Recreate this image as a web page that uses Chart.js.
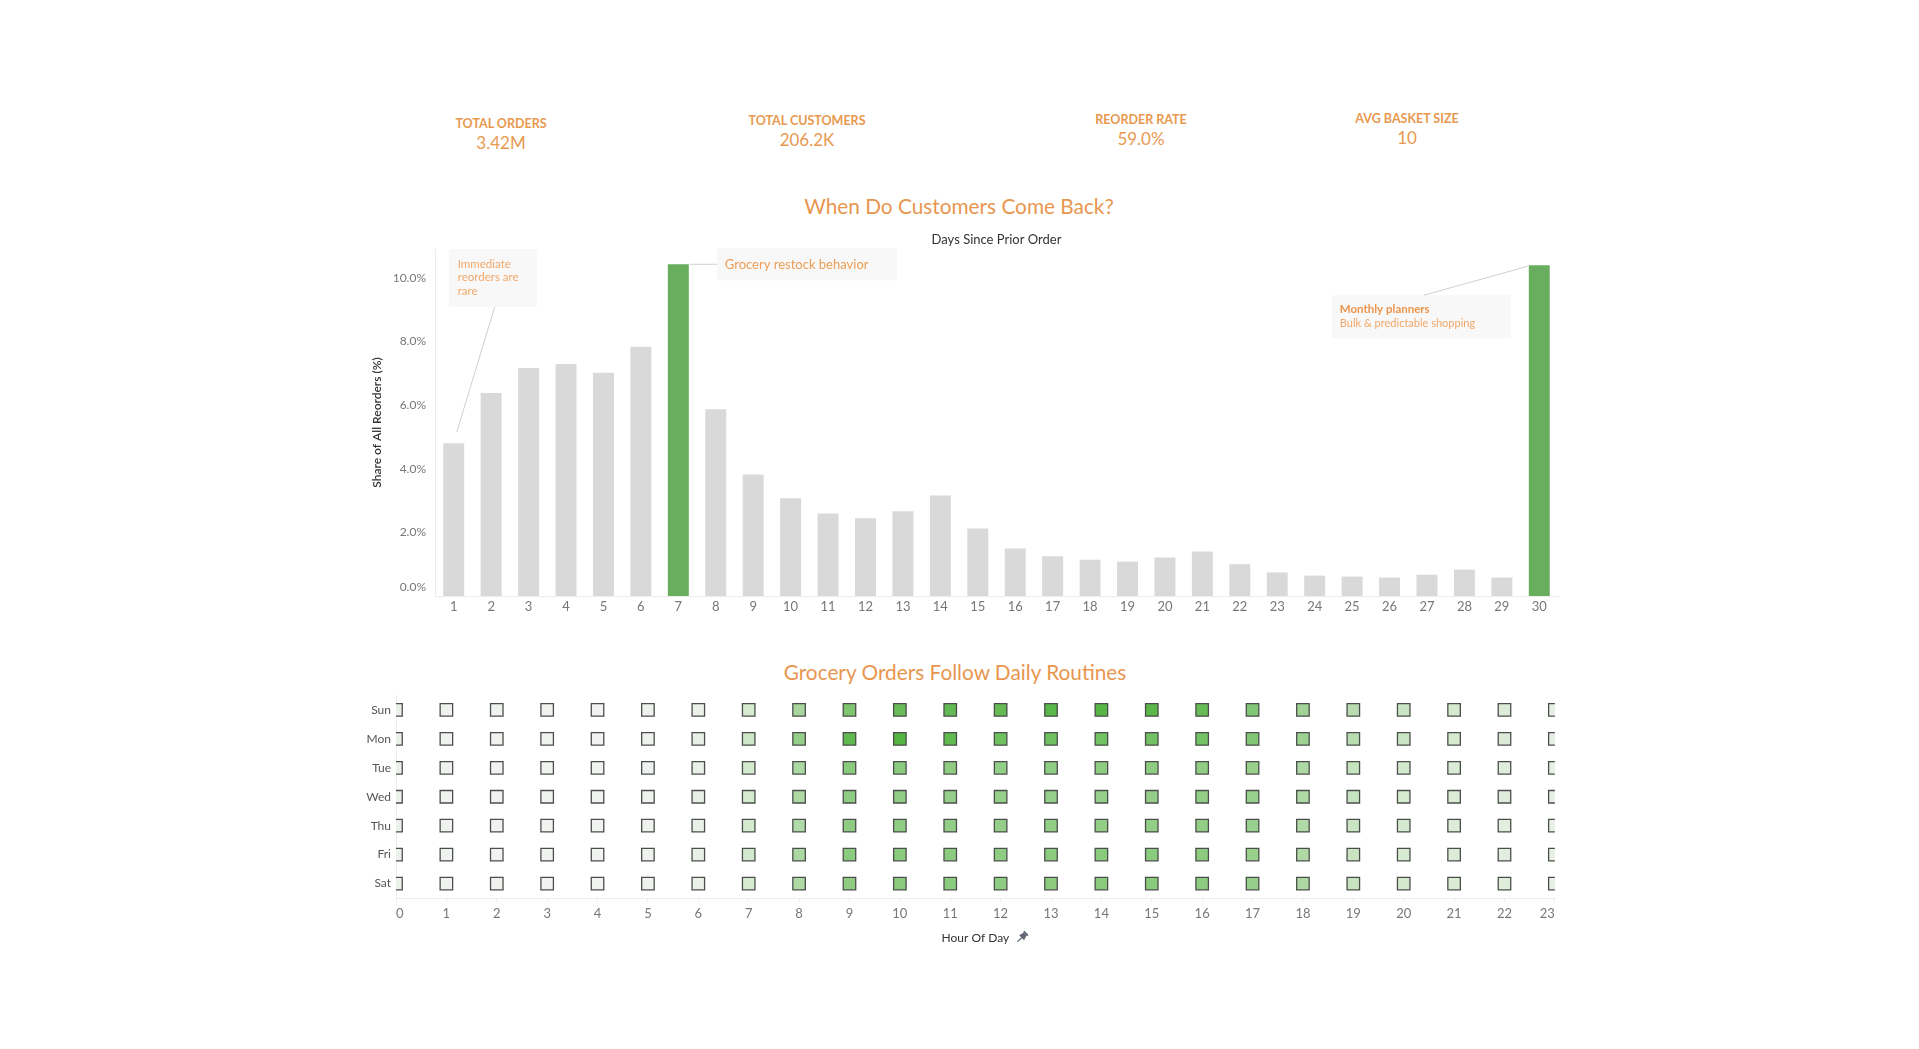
<!DOCTYPE html>
<html>
<head>
<meta charset="utf-8">
<title>When Do Customers Come Back?</title>
<script src="https://cdn.jsdelivr.net/npm/chart.js@4.4.1/dist/chart.umd.min.js"></script>
<style>
  html, body { margin: 0; padding: 0; background: #fff; }
  body { width: 1919px; height: 1049px; position: relative; overflow: hidden; font-family: Lato, "Open Sans", sans-serif; }
  .kpi { position: absolute; text-align: center; color: #e8994f; transform: translateX(-50%); white-space: nowrap; }
  .kpi .lbl { font-size: 12.5px; font-weight: 700; line-height: 14px; }
  .kpi .val { font-size: 17px; line-height: 20px; margin-top: 2px; }
  .title { position: absolute; color: #e8964e; font-size: 20.8px; transform: translate(-50%, -50%); white-space: nowrap; }
  canvas { position: absolute; }
</style>
</head>
<body>

<div class="kpi" style="left:501px; top:117px"><div class="lbl">TOTAL ORDERS</div><div class="val">3.42M</div></div>
<div class="kpi" style="left:807px; top:114px"><div class="lbl">TOTAL CUSTOMERS</div><div class="val">206.2K</div></div>
<div class="kpi" style="left:1141px; top:113px"><div class="lbl">REORDER RATE</div><div class="val">59.0%</div></div>
<div class="kpi" style="left:1407px; top:112px"><div class="lbl">AVG BASKET SIZE</div><div class="val">10</div></div>

<div class="title" style="left:959px; top:205px">When Do Customers Come Back?</div>
<div class="title" style="left:955px; top:671px">Grocery Orders Follow Daily Routines</div>

<canvas id="gapChart" width="1200" height="410" style="left:360px; top:225px; width:1200px; height:410px"></canvas>
<canvas id="hourChart" width="1235" height="280" style="left:330px; top:680px; width:1235px; height:280px"></canvas>

<script>
// days since prior order -> share of all reorders (%)
const DAYS_SINCE = ['1','2','3','4','5','6','7','8','9','10','11','12','13','14','15',
                    '16','17','18','19','20','21','22','23','24','25','26','27','28','29','30'];
const SHARE = [4.80, 6.38, 7.16, 7.29, 7.01, 7.83, 10.42, 5.87, 3.82, 3.07, 2.59, 2.44, 2.66, 3.16, 2.12,
               1.49, 1.25, 1.14, 1.08, 1.21, 1.40, 1.00, 0.74, 0.64, 0.61, 0.58, 0.67, 0.83, 0.58, 10.39];
const HIGHLIGHT_DAYS = ['7', '30'];
const SHARE_TICKS = [0, 2, 4, 6, 8, 10];

// orders (thousands) by day of week and hour of day
const WEEKDAYS = ['Sun', 'Mon', 'Tue', 'Wed', 'Thu', 'Fri', 'Sat'];
const HOURS = [0,1,2,3,4,5,6,7,8,9,10,11,12,13,14,15,16,17,18,19,20,21,22,23];
const SUN = [3.9, 2.4, 1.4, 1.0, 0.8, 1.2, 3.3, 13.0, 28.1, 40.8, 48.5, 51.0, 50.2, 53.8, 54.6, 54.0, 49.5, 39.8, 29.6, 22.7, 17.3, 13.4, 10.2, 6.0];
const MON = [3.7, 1.8, 1.1, 0.7, 0.8, 1.6, 5.4, 16.6, 34.1, 51.9, 55.7, 51.6, 46.5, 46.4, 45.4, 45.3, 44.5, 39.8, 31.4, 22.8, 17.4, 13.1, 10.4, 6.3];
const TUE = [3.1, 1.6, 0.9, 0.7, 0.7, 1.4, 4.8, 14.2, 26.6, 37.3, 37.2, 35.9, 34.8, 35.3, 36.0, 35.8, 35.6, 33.3, 26.0, 18.9, 14.4, 11.4, 9.1, 5.7];
const WED = [3.0, 1.5, 0.9, 0.7, 0.7, 1.4, 4.6, 13.6, 25.9, 35.7, 35.2, 34.0, 33.6, 33.5, 33.9, 34.2, 34.6, 32.8, 25.9, 18.2, 13.8, 11.0, 8.6, 5.5];
const THU = [2.6, 1.4, 0.8, 0.6, 0.7, 1.4, 4.6, 13.5, 25.3, 35.8, 35.4, 34.4, 34.2, 34.4, 34.7, 34.8, 34.7, 32.9, 25.0, 17.4, 13.3, 10.5, 8.1, 5.0];
const FRI = [3.0, 1.6, 0.9, 0.7, 0.7, 1.4, 4.8, 14.5, 26.6, 37.0, 37.6, 36.7, 36.0, 36.6, 37.5, 37.2, 36.5, 33.0, 25.5, 17.8, 13.0, 10.2, 7.9, 5.3];
const SAT = [3.3, 1.8, 1.0, 0.8, 0.7, 1.2, 3.8, 12.8, 25.8, 35.9, 37.3, 37.0, 36.4, 36.5, 37.3, 37.4, 36.5, 33.6, 26.2, 18.4, 14.3, 11.8, 9.2, 6.2];
const ORDERS_BY_DAY = [SUN, MON, TUE, WED, THU, FRI, SAT];

Chart.defaults.font.family = 'Lato, "Open Sans", sans-serif';
Chart.defaults.animation = false;

const ORANGE = '#ee9d55';
const NOTE_FILL = '#f8f8f8';
const LEADER = '#cfcfcf';
const fmtPct = v => v.toFixed(1) + '%';

// annotations and axis captions for the bar chart
const reorderNotes = {
    id: 'reorderNotes',
    afterDraw(chart) {
        const { ctx, chartArea: ca, scales: { x, y } } = chart;
        const bars = chart.getDatasetMeta(0).data;
        const half = bars[0].width / 2;
        ctx.save();

        ctx.fillStyle = '#333';
        ctx.textAlign = 'center';
        ctx.textBaseline = 'middle';
        ctx.font = '13px Lato';
        ctx.fillText('Days Since Prior Order', (ca.left + ca.right) / 2, ca.top - 9);

        ctx.save();
        ctx.translate(17, (ca.top + ca.bottom) / 2);
        ctx.rotate(-Math.PI / 2);
        ctx.font = '600 12px Lato';
        ctx.fillText('Share of All Reorders (%)', 0, 0);
        ctx.restore();

        // zero label sits just above the baseline, as in the original
        ctx.textAlign = 'right';
        ctx.fillStyle = '#777';
        ctx.font = '12px Lato';
        ctx.fillText(fmtPct(SHARE_TICKS[0]), ca.left - 9, y.getPixelForValue(SHARE_TICKS[0]) - 9);

        ctx.textAlign = 'left';

        // day 1 note
        const x1 = x.getPixelForValue(0);
        const y1 = y.getPixelForValue(SHARE[0]);
        ctx.fillStyle = NOTE_FILL;
        ctx.fillRect(x1 - 5, ca.top, 88, 58);
        ctx.strokeStyle = LEADER;
        ctx.lineWidth = 1;
        ctx.beginPath();
        ctx.moveTo(x1 + 3, y1 - 11);
        ctx.lineTo(x1 + 41, ca.top + 58);
        ctx.stroke();
        ctx.fillStyle = '#f2a868';
        ctx.font = '11.5px Lato';
        ['Immediate', 'reorders are', 'rare'].forEach((t, i) => ctx.fillText(t, x1 + 4, ca.top + 15 + i * 13.5));

        // day 7 note
        const x7 = x.getPixelForValue(6) + half;
        const y7 = y.getPixelForValue(SHARE[6]);
        ctx.fillStyle = NOTE_FILL;
        ctx.fillRect(x7 + 28, y7 - 16, 180, 32);
        ctx.strokeStyle = LEADER;
        ctx.beginPath();
        ctx.moveTo(x7 + 1, y7);
        ctx.lineTo(x7 + 28, y7);
        ctx.stroke();
        ctx.fillStyle = ORANGE;
        ctx.font = '13px Lato';
        ctx.fillText('Grocery restock behavior', x7 + 36, y7 + 1);

        // day 30 note
        const x30 = x.getPixelForValue(29) - half;
        const y30 = y.getPixelForValue(SHARE[29]);
        const bx = x30 - 197, by = y30 + 30;
        ctx.fillStyle = NOTE_FILL;
        ctx.fillRect(bx, by, 179, 43);
        ctx.strokeStyle = LEADER;
        ctx.beginPath();
        ctx.moveTo(x30 - 1, y30 + 1);
        ctx.lineTo(bx + 92, by);
        ctx.stroke();
        ctx.fillStyle = '#ec944a';
        ctx.font = 'bold 11.5px Lato';
        ctx.fillText('Monthly planners', bx + 8, by + 14);
        ctx.fillStyle = '#f2a868';
        ctx.font = '11px Lato';
        ctx.fillText('Bulk & predictable shopping', bx + 8, by + 28);

        ctx.restore();
    }
};

new Chart(document.getElementById('gapChart'), {
    type: 'bar',
    data: {
        labels: DAYS_SINCE,
        datasets: [{
            label: 'Share of All Reorders (%)',
            data: SHARE,
            backgroundColor: DAYS_SINCE.map(d => HIGHLIGHT_DAYS.includes(d) ? '#69ad5f' : '#d9d9d9'),
            barPercentage: 0.56,
            categoryPercentage: 1
        }]
    },
    options: {
        responsive: false,
        devicePixelRatio: 1,
        layout: { padding: { top: 24, right: 2, bottom: 0, left: 0 } },
        plugins: { legend: { display: false }, tooltip: { enabled: false } },
        scales: {
            x: {
                grid: { display: false, drawTicks: false },
                border: { color: '#ececec' },
                ticks: { color: '#777', font: { size: 13 }, padding: 3, maxRotation: 0, autoSkip: false },
                afterFit: s => { s.height = 39; }
            },
            y: {
                min: 0,
                max: 10.9,
                grid: { display: false, drawTicks: false },
                border: { color: '#ececec' },
                afterBuildTicks: s => { s.ticks = SHARE_TICKS.map(v => ({ value: v })); },
                ticks: { color: '#777', font: { size: 12 }, padding: 9, callback: v => v === 0 ? '' : fmtPct(v) },
                afterFit: s => { s.width = 75; }
            }
        }
    },
    plugins: [reorderNotes]
});

// heatmap
const RAMP = [[243, 243, 243], [213, 234, 207], [168, 214, 158], [124, 197, 110], [85, 181, 67]];
const maxOrders = Math.max(...ORDERS_BY_DAY.flat());
function rampColor(t) {
    const p = Math.min(Math.max(t, 0), 1) * (RAMP.length - 1);
    const i = Math.min(Math.floor(p), RAMP.length - 2);
    const f = p - i;
    const c = RAMP[i].map((v, k) => Math.round(v + (RAMP[i + 1][k] - v) * f));
    return `rgb(${c[0]},${c[1]},${c[2]})`;
}

const cells = [];
WEEKDAYS.forEach((d, i) => HOURS.forEach((h, j) => cells.push({ x: h, y: d, v: ORDERS_BY_DAY[i][j] })));

const hourCaption = {
    id: 'hourCaption',
    afterDraw(chart) {
        const { ctx, chartArea: ca } = chart;
        const cx = (ca.left + ca.right) / 2;
        const cy = ca.bottom + 40;
        ctx.save();
        ctx.fillStyle = '#333';
        ctx.font = '12px Lato';
        ctx.textAlign = 'center';
        ctx.textBaseline = 'middle';
        ctx.fillText('Hour Of Day', cx, cy);
        const w = ctx.measureText('Hour Of Day').width;
        // pin icon
        ctx.translate(cx + w / 2 + 13, cy - 1);
        ctx.rotate(Math.PI / 4);
        ctx.fillStyle = '#5f6670';
        ctx.strokeStyle = '#5f6670';
        ctx.fillRect(-3, -6, 6, 2);
        ctx.beginPath();
        ctx.moveTo(-2, -4);
        ctx.lineTo(2, -4);
        ctx.lineTo(3.5, 1);
        ctx.lineTo(-3.5, 1);
        ctx.closePath();
        ctx.fill();
        ctx.lineWidth = 1.2;
        ctx.beginPath();
        ctx.moveTo(0, 1);
        ctx.lineTo(0, 7);
        ctx.stroke();
        ctx.restore();
    }
};

new Chart(document.getElementById('hourChart'), {
    type: 'scatter',
    data: {
        datasets: [{
            label: 'Orders',
            data: cells,
            pointStyle: 'rect',
            pointRadius: 8.84,
            pointHoverRadius: 8.84,
            borderWidth: 1.3,
            borderColor: '#4b4f4b',
            backgroundColor: c => rampColor(c.raw.v / maxOrders),
            clip: 0
        }]
    },
    options: {
        responsive: false,
        devicePixelRatio: 1,
        layout: { padding: { top: 15.5, right: 10, bottom: 0, left: 0 } },
        plugins: { legend: { display: false }, tooltip: { enabled: false } },
        scales: {
            x: {
                type: 'linear',
                min: 0,
                max: 23,
                grid: { drawOnChartArea: false, drawTicks: true, tickLength: 5, color: '#f0f0f0' },
                border: { color: '#ececec' },
                ticks: { stepSize: 1, color: '#777', font: { size: 13 }, padding: 3, align: 'inner', maxRotation: 0, autoSkip: false },
                afterFit: s => { s.height = 62; }
            },
            y: {
                type: 'category',
                labels: WEEKDAYS,
                offset: true,
                grid: { display: false, drawTicks: false },
                border: { color: '#ececec' },
                ticks: { color: '#555', font: { size: 12 }, padding: 5 },
                afterFit: s => { s.width = 66; }
            }
        }
    },
    plugins: [hourCaption]
});
</script>
</body>
</html>
